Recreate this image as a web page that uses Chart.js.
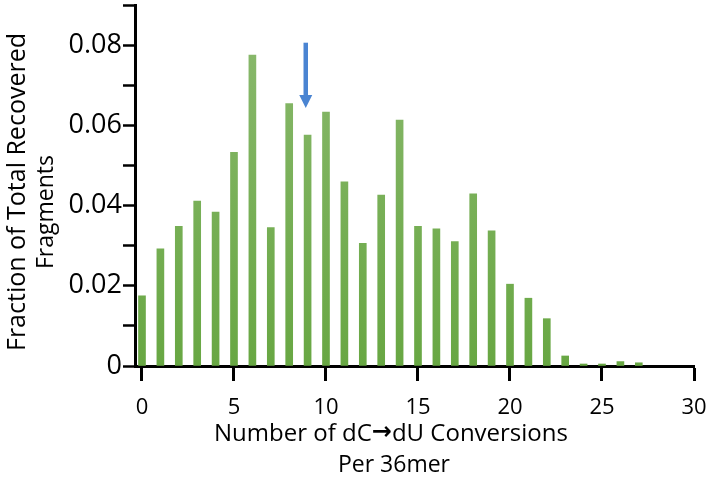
<!DOCTYPE html>
<html>
<head>
<meta charset="utf-8">
<script src="https://cdn.jsdelivr.net/npm/chart.js@4.4.0/dist/chart.umd.min.js"></script>
<style>
  html, body { margin: 0; padding: 0; background: #fff; }
  #wrap { width: 709px; height: 481px; }
</style>
</head>
<body>
<div id="wrap"><canvas id="histChart" width="709" height="481"></canvas></div>
<script>
// number of dC->dU conversions per 36mer
const conversions = [0, 1, 2, 3, 4, 5, 6, 7, 8, 9, 10, 11, 12, 13,
                     14, 15, 16, 17, 18, 19, 20, 21, 22, 23, 24, 25, 26, 27];
// fraction of total recovered fragments
const fractions = [0.0175, 0.0292, 0.0348, 0.0411, 0.0384, 0.0533, 0.0775, 0.0345,
                   0.0654, 0.0576, 0.0633, 0.0459, 0.0306, 0.0426, 0.0613, 0.0348,
                   0.0342, 0.0310, 0.0429, 0.0337, 0.0204, 0.0169, 0.0118, 0.0025,
                   0.0005, 0.0005, 0.0011, 0.0008];

const xTicks = [0, 5, 10, 15, 20, 25, 30];
const yTicks = [0, 0.01, 0.02, 0.03, 0.04, 0.05, 0.06, 0.07, 0.08, 0.09];
const yLabelled = [0, 0.02, 0.04, 0.06, 0.08];

// the blue arrow marking the mean
const arrowAt = 8.9;
const arrowFrom = 0.0806;
const arrowTo = 0.0643;

const FONT = '"Open Sans", sans-serif';

// arrow drawn through the chart scales
const arrowPlugin = {
    id: 'arrow',
    afterDatasetsDraw(chart) {
        const ctx = chart.ctx;
        const x = chart.scales.x.getPixelForValue(arrowAt);
        const y1 = chart.scales.y.getPixelForValue(arrowFrom);
        const y2 = chart.scales.y.getPixelForValue(arrowTo);
        const headH = 13, headW = 13, shaft = 4.5;
        ctx.save();
        ctx.fillStyle = '#4a84d2';
        ctx.fillRect(x - shaft / 2, y1, shaft, (y2 - headH) - y1 + 1);
        ctx.beginPath();
        ctx.moveTo(x - headW / 2, y2 - headH);
        ctx.lineTo(x + headW / 2, y2 - headH);
        ctx.lineTo(x, y2);
        ctx.closePath();
        ctx.fill();
        ctx.restore();
    }
};

// writes a line made of pieces in different fonts, centred on cx
function drawPieces(ctx, pieces, cx, cy) {
    let total = 0;
    pieces.forEach(p => { ctx.font = p.font; p.w = ctx.measureText(p.text).width; total += p.w; });
    let x = cx - total / 2;
    ctx.textAlign = 'left';
    pieces.forEach(p => {
        ctx.font = p.font;
        ctx.fillText(p.text, x, cy + (p.dy || 0));
        x += p.w;
    });
}

// two-line axis titles, placed like the original figure
const titlePlugin = {
    id: 'axisTitles',
    afterDraw(chart) {
        const ctx = chart.ctx;
        ctx.save();
        ctx.fillStyle = '#000';
        ctx.textBaseline = 'middle';
        drawPieces(ctx, [
            { text: 'Number of dC', font: '24px ' + FONT },
            { text: '\u2192', font: 'bold 24px "DejaVu Sans"', dy: -1 },
            { text: 'dU Conversions', font: '24px ' + FONT }
        ], 391, 434);
        ctx.textAlign = 'center';
        ctx.font = '23px ' + FONT;
        ctx.fillText('Per 36mer', 394, 465);
        ctx.restore();

        ctx.save();
        ctx.fillStyle = '#000';
        ctx.textAlign = 'center';
        ctx.textBaseline = 'middle';
        ctx.font = '25px ' + FONT;
        ctx.translate(18, 192);
        ctx.rotate(-Math.PI / 2);
        ctx.fillText('Fraction of Total Recovered', 0, 0);
        ctx.restore();

        ctx.save();
        ctx.fillStyle = '#000';
        ctx.textAlign = 'center';
        ctx.textBaseline = 'middle';
        ctx.font = '23px ' + FONT;
        ctx.translate(46, 212);
        ctx.rotate(-Math.PI / 2);
        ctx.fillText('Fragments', 0, 0);
        ctx.restore();
    }
};

function barGradient(context) {
    const chart = context.chart;
    const area = chart.chartArea;
    if (!area) return '#75ad50';
    const g = chart.ctx.createLinearGradient(0, area.bottom, 0, area.top);
    g.addColorStop(0, '#68a743');
    g.addColorStop(1, '#8cba70');
    return g;
}

const ctx = document.getElementById('histChart').getContext('2d');
new Chart(ctx, {
    type: 'bar',
    data: {
        datasets: [{
            data: conversions.map((c, i) => ({ x: c, y: fractions[i] })),
            backgroundColor: barGradient,
            borderWidth: 0,
            barThickness: 7
        }]
    },
    options: {
        responsive: false,
        devicePixelRatio: 1,
        animation: false,
        layout: { padding: { top: 5, right: 15, left: 0, bottom: 0 } },
        plugins: {
            legend: { display: false },
            tooltip: { enabled: false }
        },
        scales: {
            x: {
                type: 'linear',
                min: -0.38,
                max: 30,
                offset: false,
                afterBuildTicks: scale => { scale.ticks = xTicks.map(v => ({ value: v })); },
                afterFit: scale => {
                    scale.height = 115;
                    scale.paddingLeft = 0;
                    scale.paddingRight = 0;
                },
                ticks: {
                    color: '#000',
                    font: { family: FONT, size: 22 },
                    padding: 14,
                    maxRotation: 0,
                    autoSkip: false
                },
                grid: {
                    drawOnChartArea: false,
                    offset: false,
                    color: '#000',
                    tickLength: 15,
                    tickWidth: 3
                },
                border: { display: true, color: '#000', width: 3 }
            },
            y: {
                min: 0,
                max: 0.09,
                afterBuildTicks: scale => { scale.ticks = yTicks.map(v => ({ value: v })); },
                afterFit: scale => {
                    scale.width = 135;
                    scale.paddingTop = 0;
                    scale.paddingBottom = 0;
                },
                ticks: {
                    color: '#000',
                    font: { family: FONT, size: 27 },
                    padding: 1,
                    autoSkip: false,
                    callback: v => {
                        const hit = yLabelled.find(t => Math.abs(t - v) < 1e-9);
                        if (hit === undefined) return '';
                        return hit === 0 ? '0' : hit.toFixed(2);
                    }
                },
                grid: {
                    drawOnChartArea: false,
                    color: '#000',
                    tickLength: 12,
                    tickWidth: 2.5
                },
                border: { display: true, color: '#000', width: 3 }
            }
        }
    },
    plugins: [arrowPlugin, titlePlugin]
});
</script>
</body>
</html>
